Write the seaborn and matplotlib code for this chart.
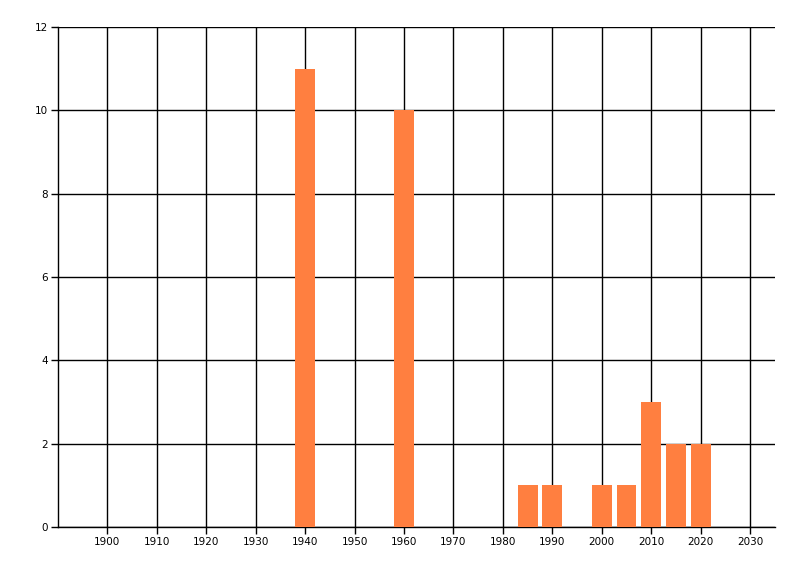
import numpy as np
import pandas as pd
import matplotlib
matplotlib.use("Agg")
import matplotlib.pyplot as plt
import seaborn as sns

# data
years = [1940, 1960, 1985, 1990, 2000, 2005, 2010, 2015, 2020]
counts = [11, 10, 1, 1, 1, 1, 3, 2, 2]
x_ticks = list(range(1900, 2031, 10))
y_ticks = list(range(0, 13, 2))

df = pd.DataFrame({"year": years, "count": counts})

sns.set_style("white")
plt.rcParams["font.family"] = ["DejaVu Sans"]

fig = plt.figure(figsize=(8, 5.76), dpi=100)
ax = fig.add_axes([0.0725, 0.085, 0.896, 0.868])

sns.barplot(data=df, x="year", y="count", native_scale=True, width=0.8,
            color="#FF7F40", saturation=1, linewidth=0, ax=ax, zorder=3)

ax.set_xlim(1890, 2035)
ax.set_ylim(0, 12)
ax.set_xticks(x_ticks)
ax.set_yticks(y_ticks)
ax.set_xticklabels([str(t) for t in x_ticks])
ax.set_yticklabels([str(t) for t in y_ticks])
ax.grid(True, color="black", linewidth=1)
ax.set_axisbelow(True)

for side in ["top", "right"]:
    ax.spines[side].set_visible(False)
for side in ["left", "bottom"]:
    ax.spines[side].set_color("black")
    ax.spines[side].set_linewidth(1)

ax.tick_params(axis="both", direction="out", length=5, width=1, color="black",
               bottom=True, left=True, labelsize=7.5, labelcolor="black", pad=2)
ax.set_xlabel("")
ax.set_ylabel("")

fig.savefig("out.png", dpi=100)
